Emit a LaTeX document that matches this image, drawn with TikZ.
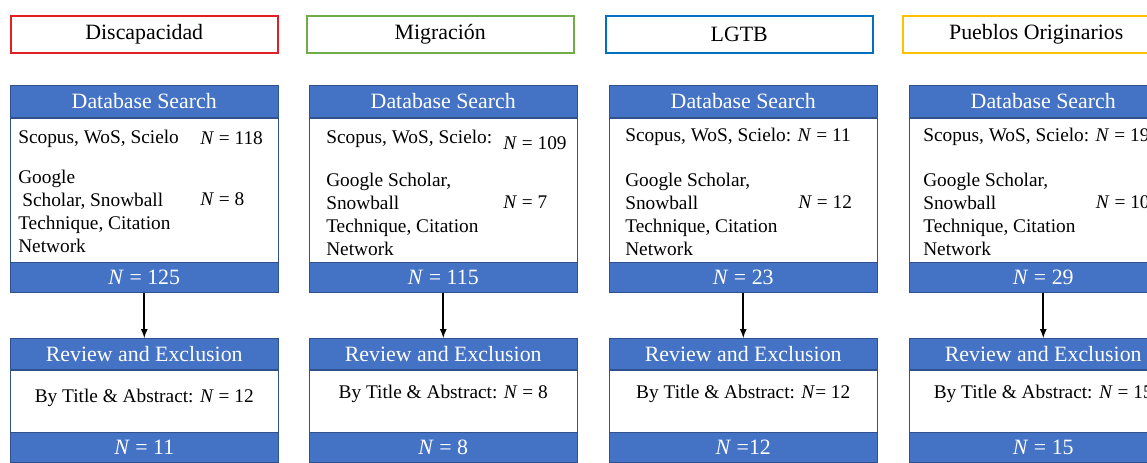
\documentclass[tikz,border=0pt]{standalone}
\usepackage{fontspec}
\setmainfont{Liberation Serif}
\usetikzlibrary{positioning,arrows}

\definecolor{barblue}{HTML}{4472C4}
\definecolor{barline}{HTML}{2F528F}
\definecolor{redbox}{HTML}{E31E24}
\definecolor{greenbox}{HTML}{70AD47}
\definecolor{bluebox}{HTML}{0070C0}
\definecolor{yellowbox}{HTML}{FFC000}

\begin{document}
\begin{tikzpicture}
	[   x=0.75pt,y=-0.75pt,
	title/.style={draw=#1,line width=1.4pt,fill=white,minimum width=200pt,minimum height=28pt,inner sep=0pt,font=\fontsize{16.4}{19}\selectfont},
	bar/.style={draw=barline,fill=barblue,text=white,minimum width=201pt,minimum height=#1,inner sep=0pt,font=\fontsize{16.4}{19}\selectfont},
	field/.style={draw=barline,fill=white,minimum width=201pt,minimum height=#1,inner sep=0pt},
	txt/.style={inner sep=0pt,align=left,font=\fontsize{14.5}{17.25}\selectfont},
	]
	\tikzset{normal arrow/.style={draw,-latex,line width=1.3pt}}
	\path[use as bounding box,clip] (0,0) rectangle (1147,462);
	
	\foreach \i/\x/\tx/\clr/\name/\na/\nb/\rt/\ry in {
		1/10/10/redbox/Discapacidad/{\textit{N} = 125}/{\textit{N} = 11}/{By Title \& Abstract: \textit{N} = 12}/2,
		2/309/306/greenbox/Migración/{\textit{N} = 115}/{\textit{N} = 8}/{By Title \& Abstract: \textit{N} = 8}/5.5,
		3/609/605/bluebox/LGTB/{\textit{N} = 23}/{\textit{N} =12}/{By Title \& Abstract: \textit{N}= 12}/5.5,
		4/909/902/yellowbox/Pueblos Originarios/{\textit{N} = 29}/{\textit{N} = 15}/{By Title \& Abstract: \textit{N} = 15}/5.5}
	{
		\node[title=\clr,anchor=north west] (t-\i) at (\tx,15) {\name};
		\node[bar=24pt,anchor=north west] (db-\i) at (\x,85) {Database Search};
		\node[field=108pt,below=0pt of db-\i] (dbw-\i) {};
		\node[bar=22.5pt,below=0pt of dbw-\i] (dbn-\i) {\na};
		\node[bar=23.25pt,anchor=north west] (rv-\i) at (\x,338) {Review and Exclusion};
		\node[field=46.5pt,below=0pt of rv-\i] (rvw-\i) {};
		\node[bar=22.5pt,below=0pt of rvw-\i] (rvn-\i) {\nb};
		\node[txt] (rt-\i) at ([yshift=\ry pt]rvw-\i.center) {\rt};
		\path[normal arrow] (dbn-\i) -- (rv-\i);
	}
	
	% column 1
	\node[txt,anchor=west] (src-1) at ([xshift=6pt,yshift=-15.75pt]dbw-1.north west) {Scopus, WoS, Scielo};
	\node[txt,anchor=west] (srcn-1) at ([xshift=142.5pt,yshift=-15.75pt]dbw-1.north west) {\textit{N} = 118};
	\node[txt,anchor=west] (gs-1) at ([xshift=6pt,yshift=-70.5pt]dbw-1.north west) {Google\\\hspace*{3pt}Scholar, Snowball\\Technique, Citation\\Network};
	\node[txt,anchor=west] (gsn-1) at ([xshift=142.5pt,yshift=-61.5pt]dbw-1.north west) {\textit{N} = 8};
	
	% column 2
	\node[txt,anchor=west] (src-2) at ([xshift=12.75pt,yshift=-15.75pt]dbw-2.north west) {Scopus, WoS, Scielo:};
	\node[txt,anchor=west] (srcn-2) at ([xshift=145.5pt,yshift=-19.5pt]dbw-2.north west) {\textit{N} = 109};
	\node[txt,anchor=west] (gs-2) at ([xshift=12.75pt,yshift=-72.75pt]dbw-2.north west) {Google Scholar,\\Snowball\\Technique, Citation\\Network};
	\node[txt,anchor=west] (gsn-2) at ([xshift=145.5pt,yshift=-63.75pt]dbw-2.north west) {\textit{N} = 7};
	
	% column 3
	\node[txt,anchor=west] (src-3) at ([xshift=12pt,yshift=-14.25pt]dbw-3.north west) {Scopus, WoS, Scielo: \textit{N} = 11};
	\node[txt,anchor=west] (gs-3) at ([xshift=12pt,yshift=-72.75pt]dbw-3.north west) {Google Scholar,\\Snowball\\Technique, Citation\\Network};
	\node[txt,anchor=west] (gsn-3) at ([xshift=141.75pt,yshift=-63.75pt]dbw-3.north west) {\textit{N} = 12};
	
	% column 4
	\node[txt,anchor=west] (src-4) at ([xshift=10.5pt,yshift=-14.25pt]dbw-4.north west) {Scopus, WoS, Scielo: \textit{N} = 19};
	\node[txt,anchor=west] (gs-4) at ([xshift=10.5pt,yshift=-72.75pt]dbw-4.north west) {Google Scholar,\\Snowball\\Technique, Citation\\Network};
	\node[txt,anchor=west] (gsn-4) at ([xshift=140pt,yshift=-63.75pt]dbw-4.north west) {\textit{N} = 10};
\end{tikzpicture}
\end{document}
